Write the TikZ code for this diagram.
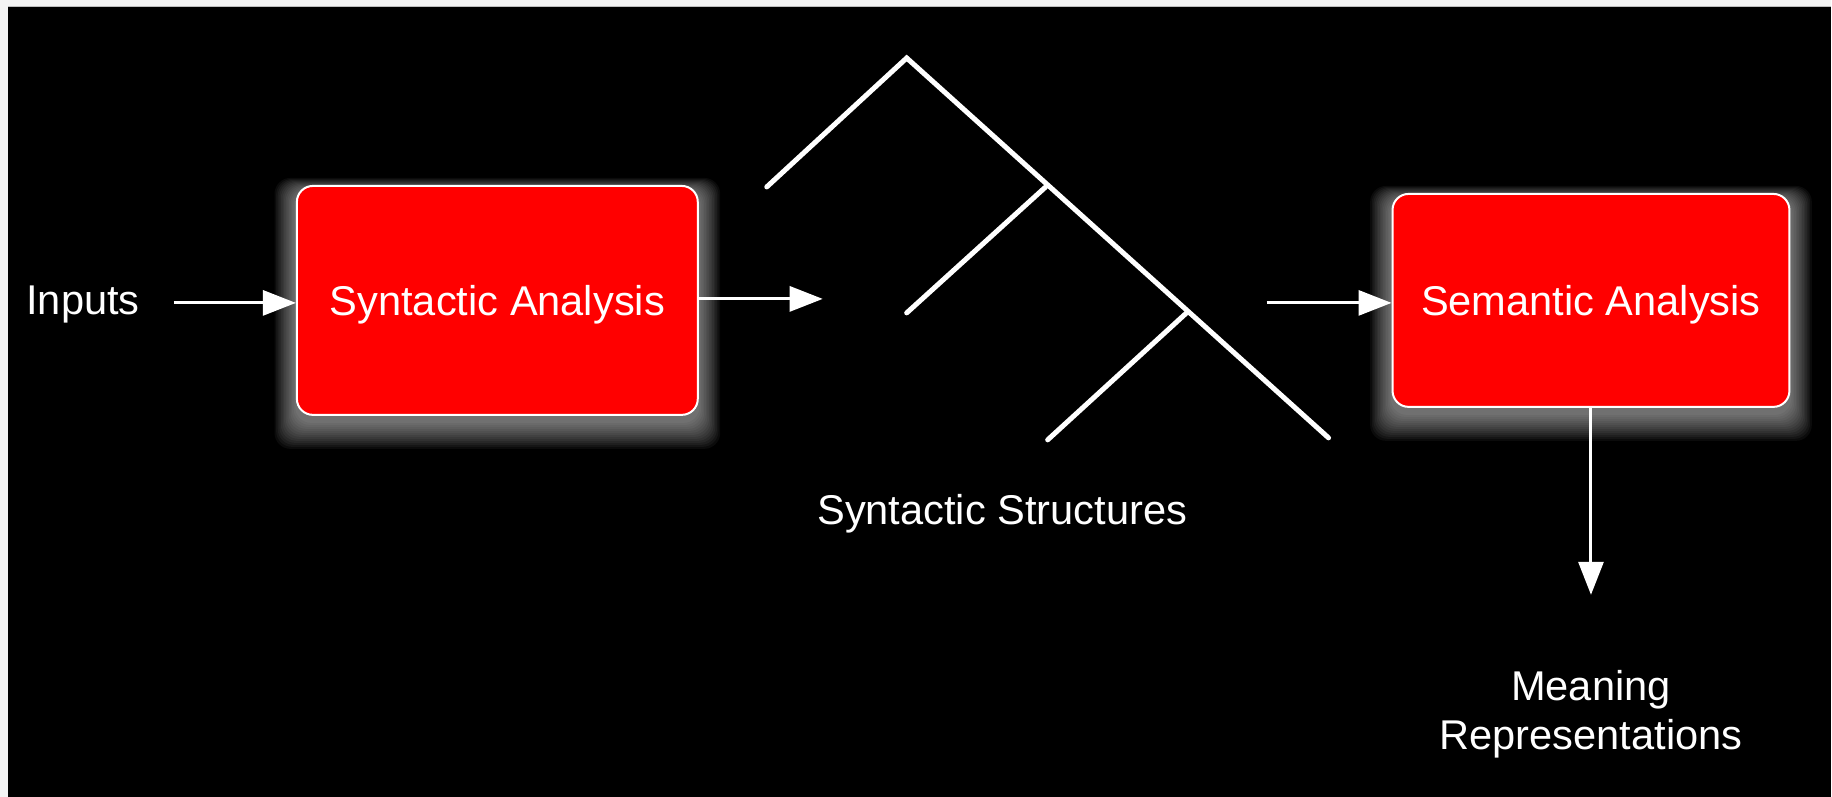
\documentclass[tikz,border=0pt]{standalone}
\usepackage{fontspec}
\setmainfont{Liberation Sans}
\usetikzlibrary{arrows.meta}
\definecolor{boxred}{RGB}{255,0,0}
\definecolor{edgegray}{RGB}{244,244,244}
\definecolor{rulegray}{RGB}{190,190,190}
\tikzset{
  stage/.style={draw=white, line width=1pt, fill=boxred, rounded corners=8pt,
    text=white, font=\fontsize{20.8}{25}\selectfont, text depth=0pt, inner sep=0pt},
  lbl/.style={text=white, font=\fontsize{20.8}{25}\selectfont, inner sep=0pt},
  flow/.style={draw=white, line width=1.5pt,
    -{Triangle[length=16.5pt, width=12.5pt]}},
  treeline/.style={draw=white, line width=2.5pt, line cap=round, line join=miter},
}
\newcommand{\glowbox}[4]{%
  \foreach \r in {2,4,...,28} {
    \fill[white, opacity=0.045, rounded corners=8pt]
      (#1-0.8*\r, #2-0.5*\r+6) rectangle (#3+0.8*\r, #4+\r+6);
  }%
}
\begin{document}
\begin{tikzpicture}[x=0.5pt, y=-0.5pt]
  % page and background
  \fill[edgegray] (0,0) rectangle (1832,797);
  \fill[black] (8,6) rectangle (1832,797);
  \draw[rulegray, line width=0.6pt] (8,6.3) -- (1832,6.3);
  \useasboundingbox (0,0) rectangle (1832,797);

  % glows
  \glowbox{297}{186}{698}{415}
  \glowbox{1393}{194}{1790}{407}

  % stages
  \node[stage, minimum width=200.5pt, minimum height=114.5pt] (syn) at (497.5,300.5) {Syntactic Analysis};
  \node[stage, minimum width=198.5pt, minimum height=106.5pt] (sem) at (1591.5,300.5) {Semantic Analysis};

  % labels
  \node[lbl, anchor=base west] (inputs) at (26,315) {Inputs};
  \node[lbl, anchor=base] (structs) at (1002.5,525) {Syntactic Structures};
  \node[lbl, anchor=base] (mean1) at (1591.5,701) {Meaning};
  \node[lbl, anchor=base] (mean2) at (1591.5,750) {Representations};

  % arrows
  \coordinate (inStart) at (174,303);
  \coordinate (midEnd) at (823,299);
  \coordinate (semStart) at (1267,303);
  \coordinate (outEnd) at (1591.5,595);
  \draw[flow] (inStart) -- (inStart -| syn.west);
  \draw[flow] (midEnd -| syn.east) -- (midEnd);
  \draw[flow] (semStart) -- (semStart -| sem.west);
  \draw[flow] (outEnd |- sem.south) -- (outEnd);

  % tree of syntactic structure
  \coordinate (apex) at (907,58);
  \coordinate (leafA) at (767,187);
  \coordinate (j1) at (1046,187);
  \coordinate (leafB) at (907,313);
  \coordinate (j2) at (1188,312);
  \coordinate (leafC) at (1048,440);
  \coordinate (rootEnd) at (1329,438);
  \draw[treeline] (leafA) -- (apex) -- (rootEnd);
  \draw[treeline] (leafB) -- (j1);
  \draw[treeline] (leafC) -- (j2);
\end{tikzpicture}
\end{document}
